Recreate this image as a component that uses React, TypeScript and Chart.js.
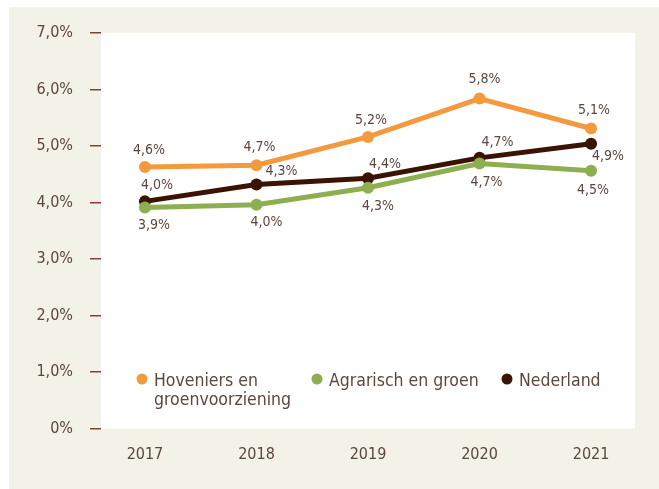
import React, { useEffect, useRef } from "react";
import { Chart, registerables } from "chart.js";

Chart.register(...registerables);

const years = ["2017", "2018", "2019", "2020", "2021"];
const hoveniers = [4.63, 4.66, 5.16, 5.84, 5.31];
const agrarisch = [3.91, 3.96, 4.26, 4.69, 4.56];
const nederland = [4.02, 4.32, 4.43, 4.79, 5.04];
const hoveniersLabels = ["4,6%", "4,7%", "5,2%", "5,8%", "5,1%"];
const agrarischLabels = ["3,9%", "4,0%", "4,3%", "4,7%", "4,5%"];
const nederlandLabels = ["4,0%", "4,3%", "4,4%", "4,7%", "4,9%"];
const yTickLabels = ["0%", "1,0%", "2,0%", "3,0%", "4,0%", "5,0%", "6,0%", "7,0%"];
const seriesNames = [["Hoveniers en", "groenvoorziening"], ["Agrarisch en groen"], ["Nederland"]];

const ORANGE = "#F39A3F";
const GREEN = "#8DAF50";
const DARK = "#3A1304";
const TEXT = "#5C463E";
const TICK = "#7A4535";
const BEIGE = "#F2F2E8";
const FONT = "'DejaVu Sans Condensed', 'DejaVu Sans', sans-serif";

const bgPlugin = {
  id: "bgPlugin",
  beforeDraw(chart: any) {
    const { ctx, chartArea } = chart;
    ctx.save();
    ctx.fillStyle = BEIGE;
    ctx.fillRect(9, 7, chart.width - 9, chart.height - 7);
    ctx.fillStyle = "#FFFFFF";
    ctx.fillRect(chartArea.left, chartArea.top, chartArea.right - chartArea.left, chartArea.bottom - chartArea.top);
    ctx.restore();
  },
};

const labelPlugin = {
  id: "labelPlugin",
  afterDatasetsDraw(chart: any) {
    const { ctx } = chart;
    ctx.save();
    ctx.font = `14px ${FONT}`;
    ctx.fillStyle = TEXT;
    ctx.textAlign = "center";
    ctx.textBaseline = "middle";
    chart.data.datasets.forEach((ds: any, di: number) => {
      const meta = chart.getDatasetMeta(di);
      meta.data.forEach((pt: any, i: number) => {
        const off = ds.labelOffsets[i];
        ctx.fillText(ds.valueLabels[i], pt.x + off[0], pt.y + off[1]);
      });
    });
    ctx.restore();
  },
};

const legendPlugin = {
  id: "legendPlugin",
  afterDraw(chart: any) {
    const { ctx, chartArea } = chart;
    const xs = [41, 216, 406];
    const y = 381;
    ctx.save();
    ctx.font = `17.5px ${FONT}`;
    ctx.textBaseline = "middle";
    ctx.textAlign = "left";
    chart.data.datasets.forEach((ds: any, di: number) => {
      const x = chartArea.left + xs[di];
      ctx.fillStyle = ds.borderColor;
      ctx.beginPath();
      ctx.arc(x, y - 2, 5.5, 0, Math.PI * 2);
      ctx.fill();
      ctx.fillStyle = TEXT;
      seriesNames[di].forEach((line, li) => {
        ctx.fillText(line, x + 12, y + li * 19);
      });
    });
    ctx.restore();
  },
};

function makeDataset(label: string, values: number[], labels: string[], color: string, offsets: number[][]) {
  return {
    label,
    data: values.map((v, i) => ({ x: i, y: v })),
    valueLabels: labels,
    labelOffsets: offsets,
    borderColor: color,
    backgroundColor: color,
    borderWidth: 5,
    pointRadius: 6,
    pointHoverRadius: 6,
    pointBorderWidth: 0,
    tension: 0,
  };
}

export default function App() {
  const ref = useRef<HTMLCanvasElement>(null);
  useEffect(() => {
    if (!ref.current) return;
    const chart = new Chart(ref.current, {
      type: "line",
      data: {
        datasets: [
          makeDataset("Hoveniers en groenvoorziening", hoveniers, hoveniersLabels, ORANGE, [[4, -17], [3, -18], [3, -17], [5, -19], [3, -18]]),
          makeDataset("Agrarisch en groen", agrarisch, agrarischLabels, GREEN, [[9, 18], [10, 18], [10, 19], [7, 19], [2, 19]]),
          makeDataset("Nederland", nederland, nederlandLabels, DARK, [[12, -16], [25, -13], [17, -14], [18, -16], [17, 13]]),
        ] as any,
      },
      options: {
        animation: false,
        responsive: false,
        maintainAspectRatio: false,
        layout: { padding: { left: 0, right: 24, top: 33, bottom: 0 } },
        plugins: { legend: { display: false }, tooltip: { enabled: false } },
        scales: {
          x: {
            type: "linear",
            min: -0.394,
            max: 4.394,
            afterBuildTicks: (scale: any) => {
              scale.ticks = years.map((_, i) => ({ value: i }));
            },
            afterFit: (scale: any) => {
              scale.height = 60.5;
            },
            grid: { display: false, drawTicks: false },
            border: { display: false },
            ticks: {
              padding: 17,
              color: TEXT,
              font: { family: FONT, size: 16 },
              maxRotation: 0,
              autoSkip: false,
              callback: (v: any) => years[Math.round(Number(v))] ?? "",
            },
          },
          y: {
            min: 0,
            max: 7,
            afterFit: (scale: any) => {
              scale.width = 101;
            },
            grid: {
              drawOnChartArea: false,
              drawTicks: true,
              tickLength: 11,
              color: TICK,
              lineWidth: 1.5,
            },
            border: { display: false },
            ticks: {
              stepSize: 1,
              padding: 17,
              color: TEXT,
              font: { family: FONT, size: 16 },
              callback: (v: any) => yTickLabels[Math.round(Number(v))] ?? "",
            },
          },
        },
      } as any,
      plugins: [bgPlugin, labelPlugin, legendPlugin],
    });
    return () => chart.destroy();
  }, []);
  return (
    <div style={{ position: "fixed", left: 0, top: 0, width: 659, height: 489, background: "#fff" }}>
      <canvas ref={ref} width={659} height={489} style={{ width: 659, height: 489, display: "block" }} />
    </div>
  );
}
